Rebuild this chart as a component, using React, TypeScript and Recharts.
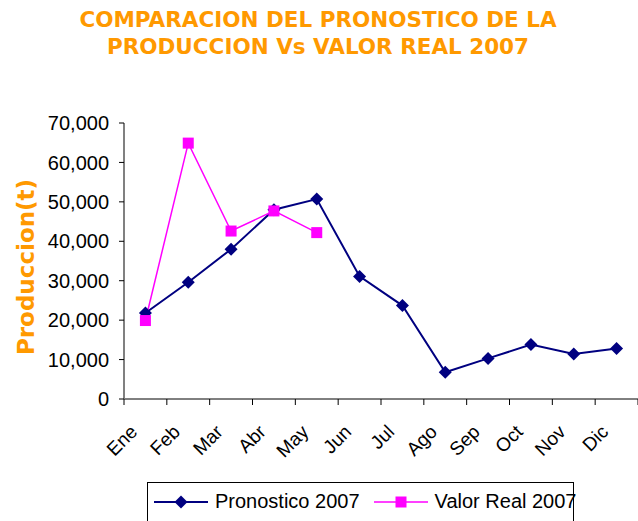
import React from 'react'
import { LineChart, Line, XAxis, YAxis } from 'recharts'

const months = ['Ene', 'Feb', 'Mar', 'Abr', 'May', 'Jun', 'Jul', 'Ago', 'Sep', 'Oct', 'Nov', 'Dic']
const pronostico = [21800, 29600, 38000, 48000, 50700, 31100, 23700, 6800, 10300, 13800, 11400, 12800]
const valorReal = [19900, 64900, 42600, 47700, 42200, null, null, null, null, null, null, null]
const yTicks = [0, 10000, 20000, 30000, 40000, 50000, 60000, 70000]

const data = months.map((m, i) => ({ x: i + 0.5, mes: m, pronostico: pronostico[i], real: valorReal[i] }))
const xTicks = Array.from({ length: 25 }, (_, i) => i / 2)

const ORANGE = '#FF9900'
const NAVY = '#000080'
const MAGENTA = '#FF00FF'
const FONT = '"Liberation Sans", Arial, sans-serif'

const Diamond = ({ cx, cy, s = 6.5 }: any) => (
  <path d={`M${cx},${cy - s}L${cx + s},${cy}L${cx},${cy + s}L${cx - s},${cy}Z`} fill={NAVY} />
)
const Square = ({ cx, cy, s = 5.5 }: any) => (
  <rect x={cx - s} y={cy - s} width={s * 2} height={s * 2} fill={MAGENTA} />
)

const XTick = (props: any) => {
  const { x, y, payload } = props
  const v = payload.value
  if (Number.isInteger(v)) {
    return <line x1={x} y1={y} x2={x} y2={y + 6} stroke="#000" strokeWidth={1} />
  }
  const label = months[Math.floor(v)]
  const px = x - 7
  const py = y + 34
  return (
    <text x={px} y={py} textAnchor="end" fontSize={19} fontFamily={FONT} fill="#000"
      transform={`rotate(-45 ${px} ${py})`}>
      {label}
    </text>
  )
}

const YLabel = ({ viewBox }: any) => {
  const cx = viewBox.x + 26
  const cy = viewBox.y + viewBox.height / 2 + 6
  return (
    <text x={cx} y={cy} textAnchor="middle" dominantBaseline="central" fontSize={23} fontWeight="bold"
      fontFamily='"DejaVu Sans", Verdana, sans-serif' fill={ORANGE} transform={`rotate(-90 ${cx} ${cy})`}>
      Produccion(t)
    </text>
  )
}

export default function App() {
  return (
    <div style={{ position: 'absolute', left: 0, top: 0, width: 638, height: 521, background: '#fff', overflow: 'hidden' }}>
      <div style={{ position: 'absolute', left: 0, top: 6, width: 636, textAlign: 'center', color: ORANGE,
        fontFamily: '"DejaVu Sans", Verdana, sans-serif', fontWeight: 'bold', fontSize: 21.5, lineHeight: '27px' }}>
        COMPARACION DEL PRONOSTICO DE LA<br />PRODUCCION Vs VALOR REAL 2007
      </div>
      <LineChart width={638} height={521} data={data} margin={{ top: 123, right: 0, left: 0, bottom: 0 }}>
        <XAxis dataKey="x" type="number" domain={[0, 12]} ticks={xTicks} interval={0} height={122}
          tickSize={0} tickMargin={0} tickLine={false} tick={<XTick />} axisLine={{ stroke: '#000', strokeWidth: 1 }} />
        <YAxis domain={[0, 70000]} ticks={yTicks} width={124} tickSize={5} tickMargin={10}
          tickFormatter={(v: number) => v.toLocaleString('en-US')}
          tick={{ fontSize: 20, fontFamily: FONT, fill: '#000' }}
          tickLine={{ stroke: '#000' }} axisLine={{ stroke: '#808080', strokeWidth: 2 }}
          label={<YLabel />} />
        <Line dataKey="pronostico" stroke={NAVY} strokeWidth={2} isAnimationActive={false}
          dot={(p: any) => <Diamond key={p.index} cx={p.cx} cy={p.cy} />} />
        <Line dataKey="real" stroke={MAGENTA} strokeWidth={1.5} isAnimationActive={false} connectNulls={false}
          dot={(p: any) => (p.value == null || p.cy == null ? <g key={p.index} /> : <Square key={p.index} cx={p.cx} cy={p.cy} />)} />
      </LineChart>
      <div style={{ position: 'absolute', left: 147, top: 482, width: 425, height: 60, border: '1px solid #000',
        fontFamily: FONT, fontSize: 20, color: '#000' }}>
        <div style={{ position: 'absolute', left: 6, top: 7, display: 'flex', alignItems: 'center', whiteSpace: 'nowrap' }}>
          <svg width={54} height={14} style={{ marginRight: 7 }}>
            <line x1={0} y1={7} x2={54} y2={7} stroke={NAVY} strokeWidth={2} />
            <Diamond cx={27} cy={7} />
          </svg>
          <span>Pronostico 2007</span>
          <svg width={54} height={14} style={{ marginLeft: 14, marginRight: 7 }}>
            <line x1={0} y1={7} x2={54} y2={7} stroke={MAGENTA} strokeWidth={1.5} />
            <Square cx={27} cy={7} />
          </svg>
          <span>Valor Real 2007</span>
        </div>
      </div>
    </div>
  )
}
